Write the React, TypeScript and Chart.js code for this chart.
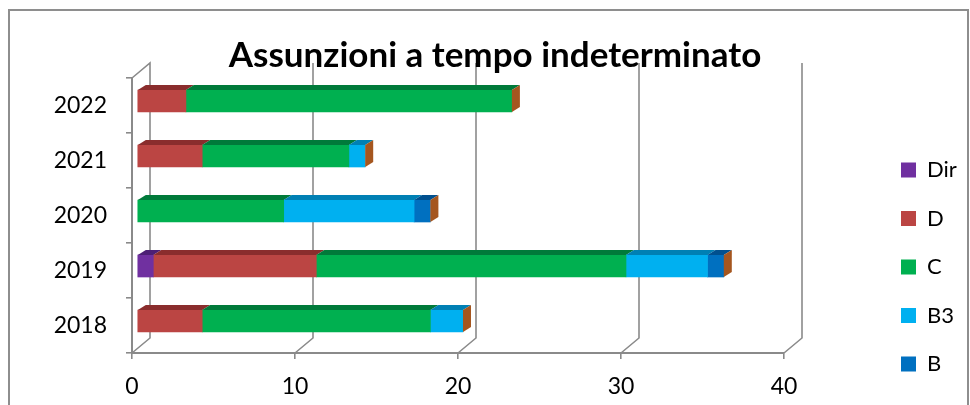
import React, { useEffect, useRef } from "react";
import { Chart, registerables } from "chart.js";

Chart.register(...registerables);

const years = ["2022", "2021", "2020", "2019", "2018"];
const dirValues = [0, 0, 0, 1, 0];
const dValues = [3, 4, 0, 10, 4];
const cValues = [20, 9, 9, 19, 14];
const b3Values = [0, 1, 8, 5, 2];
const bValues = [0, 0, 1, 1, 0];
const xTicks = [0, 10, 20, 30, 40];

const FONT = "Lato";
const AXIS = "#8a8a8a";
const DEPTH_X = 18;
const DEPTH_Y = 15;
const BAR_DX = 8;
const BAR_DY = 5;
const BAR_SHIFT_X = 5;
const BAR_SHIFT_Y = -4.5;
const CAP = "#a5561f";
const TOPS = ["#4d1f75", "#8a2d2d", "#007a3a", "#0080b4", "#00508f"];

const threeD = {
  id: "threeD",
  beforeLayout(chart: any) {
    const l = chart.legend;
    if (!l.__wrapped) {
      const fit = l.fit;
      l.fit = function () {
        fit.call(this);
        this.width = 186;
      };
      l.__wrapped = true;
    }
  },
  afterLayout(chart: any) {
    const l = chart.legend;
    const pad = l.options.labels.padding;
    l.left = 901 - pad;
    l.right = 970;
    l.top = 159 - pad;
  },
  beforeDraw(chart: any) {
    const { ctx, scales, chartArea } = chart;
    ctx.save();
    ctx.strokeStyle = "#8e8e8e";
    ctx.lineWidth = 2;
    ctx.strokeRect(9, 10, 959, 420);
    ctx.strokeStyle = AXIS;
    ctx.lineWidth = 1.6;
    const back = chartArea.top - DEPTH_Y;
    const floor = chartArea.bottom - DEPTH_Y;
    xTicks.forEach((t) => {
      const x = scales.x.getPixelForValue(t);
      ctx.beginPath();
      ctx.moveTo(x, chartArea.bottom);
      ctx.lineTo(x + DEPTH_X, floor);
      ctx.lineTo(x + DEPTH_X, back);
      if (t === 0) ctx.lineTo(x, chartArea.top);
      ctx.stroke();
    });
    ctx.restore();
  },
  beforeDatasetsDraw(chart: any) {
    chart.ctx.save();
    chart.ctx.translate(BAR_SHIFT_X, BAR_SHIFT_Y);
  },
  afterDatasetsDraw(chart: any) {
    const { ctx } = chart;
    years.forEach((_, i) => {
      let end: any = null;
      chart.data.datasets.forEach((ds: any, d: number) => {
        if (!ds.data[i]) return;
        const el = chart.getDatasetMeta(d).data[i];
        const top = el.y - el.height / 2;
        ctx.fillStyle = TOPS[d];
        ctx.beginPath();
        ctx.moveTo(el.base, top);
        ctx.lineTo(el.base + BAR_DX, top - BAR_DY);
        ctx.lineTo(el.x + BAR_DX, top - BAR_DY);
        ctx.lineTo(el.x, top);
        ctx.closePath();
        ctx.fill();
        end = el;
      });
      if (end) {
        const top = end.y - end.height / 2;
        const bottom = end.y + end.height / 2;
        ctx.fillStyle = CAP;
        ctx.beginPath();
        ctx.moveTo(end.x, top);
        ctx.lineTo(end.x + BAR_DX, top - BAR_DY);
        ctx.lineTo(end.x + BAR_DX, bottom - BAR_DY);
        ctx.lineTo(end.x, bottom);
        ctx.closePath();
        ctx.fill();
      }
    });
    ctx.restore();
  },
};

export default function App() {
  const ref = useRef<HTMLCanvasElement | null>(null);
  useEffect(() => {
    const mk = (label: string, data: number[], backgroundColor: string) => ({
      label,
      data: data.map((v) => (v === 0 ? null : v)),
      backgroundColor,
      barThickness: 22,
      clip: false,
    });
    const chart = new Chart(ref.current as HTMLCanvasElement, {
      type: "bar",
      data: {
        labels: years,
        datasets: [
          mk("Dir", dirValues, "#7030a0"),
          mk("D", dValues, "#bb4543"),
          mk("C", cValues, "#00b050"),
          mk("B3", b3Values, "#00b0f0"),
          mk("B", bValues, "#0070c0"),
        ],
      },
      options: {
        indexAxis: "y",
        responsive: false,
        animation: false,
        layout: { padding: { left: 20 } },
        plugins: {
          tooltip: { enabled: false },
          title: {
            display: true,
            text: "Assunzioni a tempo indeterminato",
            color: "#000",
            font: { family: FONT, size: 35, weight: "bold" },
            padding: { top: 35, bottom: 1 },
          },
          legend: {
            display: true,
            position: "right",
            align: "start",
            labels: {
              boxWidth: 15,
              boxHeight: 15,
              padding: 26.5,
              color: "#000",
              font: { family: FONT, size: 22 },
            },
          },
        },
        scales: {
          x: {
            stacked: true,
            min: 0,
            max: 40,
            afterFit(s: any) {
              s.height = 52;
            },
            ticks: {
              stepSize: 10,
              maxRotation: 0,
              padding: 14,
              color: "#000",
              font: { family: FONT, size: 23 },
            },
            grid: { drawOnChartArea: false, color: AXIS, tickLength: 6, lineWidth: 1.6 },
            border: { color: AXIS, width: 2 },
          },
          y: {
            stacked: true,
            afterFit(s: any) {
              s.width = 112;
            },
            ticks: {
              padding: 19,
              color: "#000",
              font: { family: FONT, size: 23 },
            },
            grid: { drawOnChartArea: false, color: AXIS, tickLength: 6, lineWidth: 1.6 },
            border: { color: AXIS, width: 2 },
          },
        },
      } as any,
      plugins: [threeD as any],
    });
    return () => chart.destroy();
  }, []);
  return (
    <div style={{ position: "fixed", left: 0, top: 0, width: 970, height: 405, background: "#fff" }}>
      <canvas ref={ref} width={970} height={405} style={{ display: "block" }} />
    </div>
  );
}
